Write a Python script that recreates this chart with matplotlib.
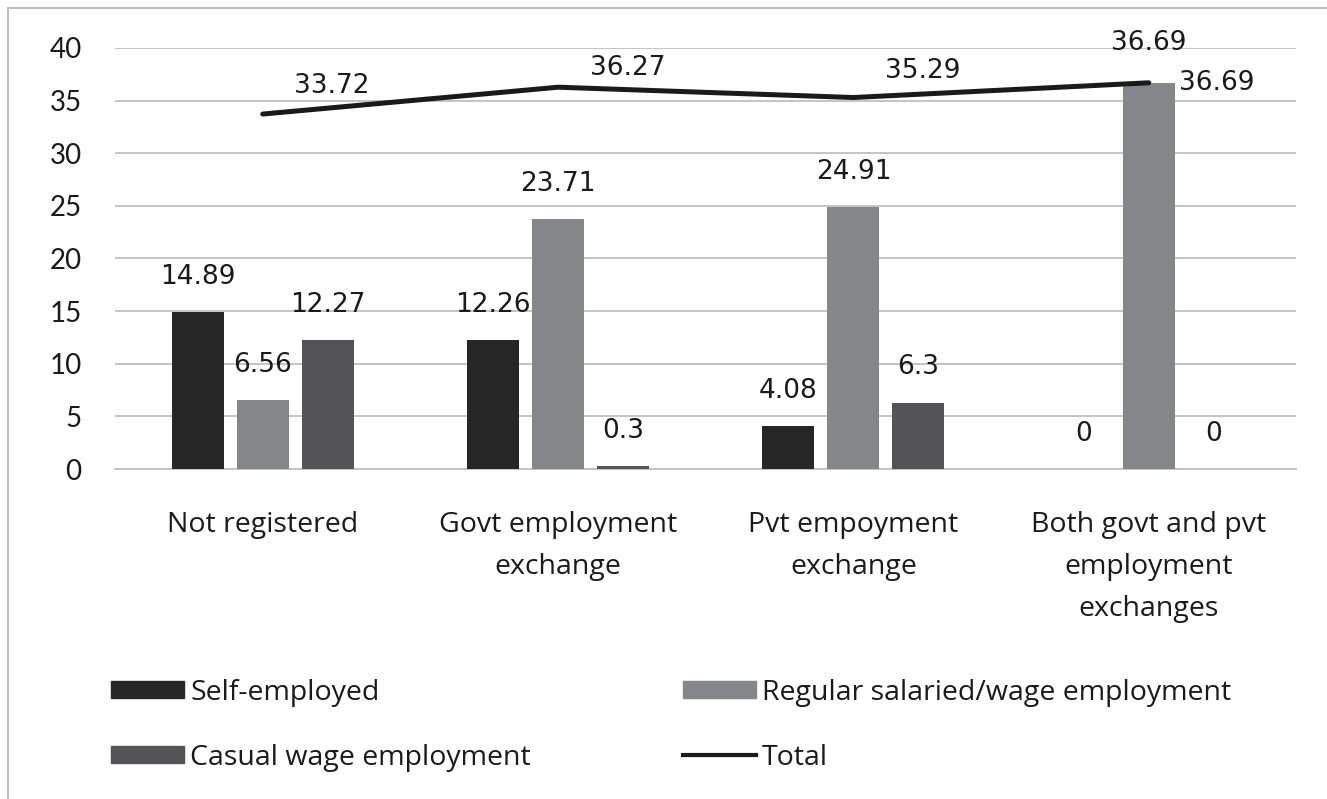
import numpy as np
import matplotlib.pyplot as plt
from matplotlib.patches import Patch
from matplotlib.lines import Line2D

categories = ['Not registered', 'Govt employment\nexchange', 'Pvt empoyment\nexchange',
              'Both govt and pvt\nemployment\nexchanges']
self_employed = [14.89, 12.26, 4.08, 0]
regular = [6.56, 23.71, 24.91, 36.69]
casual = [12.27, 0.3, 6.3, 0]
total = [33.72, 36.27, 35.29, 36.69]
yticks = [0, 5, 10, 15, 20, 25, 30, 35, 40]

c_self = '#262626'
c_reg = '#858689'
c_cas = '#545456'
c_line = '#1a1a1a'
grid_c = '#bfbfbf'

fig = plt.figure(figsize=(13.27, 7.99), dpi=100)
ax = fig.add_axes([0.0867, 0.413, 0.8903, 0.527])

x = np.arange(len(categories))
w = 0.176
off = 0.22

b1 = ax.bar(x - off, self_employed, w, color=c_self, zorder=3)
b2 = ax.bar(x, regular, w, color=c_reg, zorder=3)
b3 = ax.bar(x + off, casual, w, color=c_cas, zorder=3)
ax.plot(x, total, color=c_line, lw=3.6, solid_capstyle='round', zorder=4)

lab_font = dict(family='DejaVu Sans', fontsize=19, color='#1a1a1a')

# bar labels
for bars, vals in ((b1, self_employed), (b2, regular), (b3, casual)):
    for rect, v in zip(bars, vals):
        cx = rect.get_x() + rect.get_width() / 2
        if bars is b2 and v == regular[-1]:
            ax.annotate(f'{v:g}', (rect.get_x() + rect.get_width(), v), xytext=(3, 0),
                        textcoords='offset points', ha='left', va='center', **lab_font)
            continue
        ax.annotate(f'{v:g}', (cx, v), xytext=(0, 16), textcoords='offset points',
                    ha='center', va='bottom', **lab_font)

# line labels
line_off = [(50, 20), (50, 14), (50, 19), (0, 29)]
for xi, v, (dx, dy) in zip(x, total, line_off):
    ax.annotate(f'{v:g}', (xi, v), xytext=(dx, dy), textcoords='offset points',
                ha='center', va='center', **lab_font)

ax.set_xlim(-0.5, len(categories) - 0.5)
ax.set_ylim(0, 40)
ax.set_yticks(yticks)
ax.yaxis.grid(True, color=grid_c, lw=1.3, zorder=0)
ax.set_axisbelow(True)
for s in ['top', 'right', 'left']:
    ax.spines[s].set_visible(False)
ax.spines['bottom'].set_color(grid_c)
ax.spines['bottom'].set_linewidth(1.3)
ax.tick_params(axis='y', length=0, pad=24, labelsize=20)
ax.tick_params(axis='x', length=0, pad=30, labelsize=20.5)
ax.set_xticks(x)
ax.set_xticklabels(categories, linespacing=1.68)
for t in ax.get_yticklabels():
    t.set_family('Lato')
    t.set_color('#1a1a1a')
for t in ax.get_xticklabels():
    t.set_family('Open Sans')
    t.set_color('#1a1a1a')

leg_kw = dict(loc='center left', bbox_transform=fig.transFigure, frameon=False,
              prop=dict(family='Open Sans', size=20.5), handlelength=2.56, handleheight=0.56,
              handletextpad=0.2, labelspacing=1.3, borderaxespad=0, borderpad=0)
leg1 = fig.legend(handles=[Patch(color=c_self, label='Self-employed'),
                           Patch(color=c_cas, label='Casual wage employment')],
                  bbox_to_anchor=(0.084, 0.0926), **leg_kw)
leg2 = fig.legend(handles=[Patch(color=c_reg, label='Regular salaried/wage employment'),
                           Line2D([], [], color=c_line, lw=3, label='Total')],
                  bbox_to_anchor=(0.515, 0.0926), **leg_kw)
for lg in (leg1, leg2):
    for t in lg.get_texts():
        t.set_color('#1a1a1a')

# outer frame
fig.add_artist(Line2D([0.006, 1.0], [0.99, 0.99], transform=fig.transFigure, color='#bfbfbf', lw=1.5))
fig.add_artist(Line2D([0.006, 0.006], [0.0, 0.99], transform=fig.transFigure, color='#bfbfbf', lw=1.5))

fig.savefig('out.png', dpi=100)
